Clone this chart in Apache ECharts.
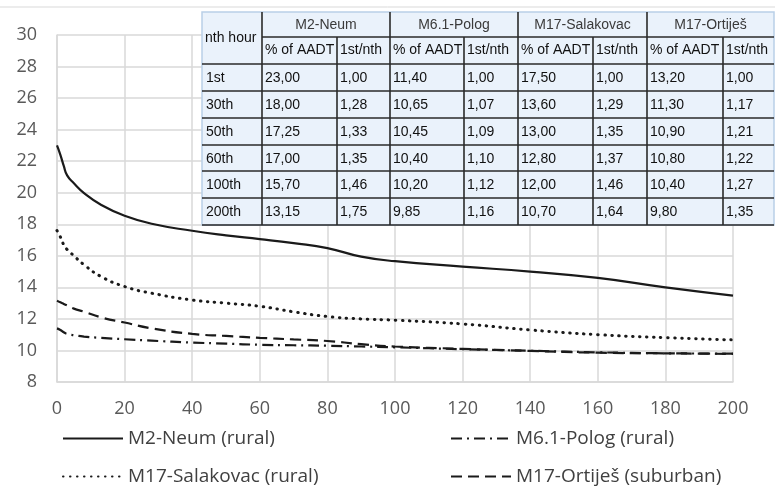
<!DOCTYPE html>
<html><head><meta charset="utf-8">
<script src="https://cdn.jsdelivr.net/npm/echarts@6/dist/echarts.min.js"></script>
<style>html,body{margin:0;padding:0;background:#fff}#c{width:775px;height:492px}</style>
</head><body><div id="c"></div>
<script>
// ---- chart data ----
const hours = [0, 1, 2, 3, 5, 8, 13, 20, 28, 40, 50, 60, 70, 80, 90, 100, 120, 140, 160, 180, 200];
const m2Neum = [23.0, 22.4, 21.7, 21.1, 20.6, 19.98, 19.24, 18.54, 18.03, 17.59, 17.3, 17.06, 16.8, 16.49, 15.95, 15.66, 15.32, 15.0, 14.6, 14.0, 13.48];
const m61Polog = [11.4, 11.3, 11.15, 11.05, 10.97, 10.88, 10.8, 10.71, 10.62, 10.5, 10.43, 10.36, 10.33, 10.3, 10.25, 10.2, 10.08, 9.98, 9.88, 9.82, 9.8];
const m17Salakovac = [17.6, 17.2, 16.7, 16.4, 16.0, 15.43, 14.69, 14.05, 13.63, 13.2, 13.0, 12.8, 12.45, 12.15, 12.0, 11.92, 11.68, 11.3, 11.0, 10.81, 10.67];
const m17Ortijes = [13.16, 13.05, 12.95, 12.85, 12.65, 12.46, 12.1, 11.77, 11.4, 11.05, 10.92, 10.8, 10.7, 10.6, 10.4, 10.25, 10.1, 9.97, 9.86, 9.82, 9.78];
const seriesNames = ['M2-Neum (rural)', 'M6.1-Polog (rural)', 'M17-Salakovac (rural)', 'M17-Ortiješ (suburban)'];

// ---- table data ----
const tableGroups = ['M2-Neum', 'M6.1-Polog', 'M17-Salakovac', 'M17-Ortiješ'];
const tableSubHeads = ['% of AADT', '1st/nth'];
const tableCorner = 'nth hour';
const tableRows = ['1st', '30th', '50th', '60th', '100th', '200th'];
const tM2Pct = ['23,00', '18,00', '17,25', '17,00', '15,70', '13,15'];
const tM2Ratio = ['1,00', '1,28', '1,33', '1,35', '1,46', '1,75'];
const tM61Pct = ['11,40', '10,65', '10,45', '10,40', '10,20', '9,85'];
const tM61Ratio = ['1,00', '1,07', '1,09', '1,10', '1,12', '1,16'];
const tSalPct = ['17,50', '13,60', '13,00', '12,80', '12,00', '10,70'];
const tSalRatio = ['1,00', '1,29', '1,35', '1,37', '1,46', '1,64'];
const tOrtPct = ['13,20', '11,30', '10,90', '10,80', '10,40', '9,80'];
const tOrtRatio = ['1,00', '1,17', '1,21', '1,22', '1,27', '1,35'];

const pair = (a) => hours.map((h, i) => [h, a[i]]);
const FONT = '"Open Sans", sans-serif';
const AX = '#595959';

const styles = [
  { color: '#1a1a1a', width: 2.2, type: 'solid' },
  { color: '#1a1a1a', width: 2.2, type: [11, 5, 2, 5] },
  { color: '#1a1a1a', width: 3, type: [0.5, 6.5], cap: 'round' },
  { color: '#1a1a1a', width: 2.2, type: [11, 6] }
];
const dataSets = [m2Neum, m61Polog, m17Salakovac, m17Ortijes];

const series = dataSets.map((d, i) => ({
  name: seriesNames[i],
  type: 'line',
  data: pair(d),
  showSymbol: false,
  symbol: 'none',
  smooth: 0.5,
  lineStyle: { color: styles[i].color, width: styles[i].width, type: styles[i].type, cap: styles[i].cap || 'butt' },
  itemStyle: { color: styles[i].color },
  z: 3
}));

// legends
const legendPos = [[62, 429], [450, 429], [62, 467], [450, 467]];
const legends = seriesNames.map((n, i) => ({
  show: true,
  data: [{ name: n, itemStyle: { opacity: 0 } }],
  left: legendPos[i][0],
  top: legendPos[i][1],
  padding: 0,
  itemWidth: 60,
  itemHeight: 20,
  selectedMode: false,
  itemStyle: { opacity: 0 },
  textStyle: { fontFamily: FONT, fontSize: 19, color: '#404040' }
}));

// table graphics
const colX = [202, 262, 337, 390, 464, 518, 593, 647, 723, 774];
const rowY = [12, 37, 64, 91, 118, 145, 171, 198, 225];
const TF = '14px "Liberation Sans", Arial, sans-serif';
const dark = '#2a2a2a';
const g = [];
g.push({ type: 'line', z: 100, shape: { x1: 0, y1: 7, x2: 775, y2: 7 }, style: { stroke: '#d9d9d9', lineWidth: 1 } });
g.push({ type: 'rect', z: 100, shape: { x: colX[0], y: rowY[0], width: colX[9] - colX[0], height: rowY[8] - rowY[0] }, style: { fill: '#eaf2fb', stroke: '#b9cfe8', lineWidth: 1.5 } });
const hl = (x1, x2, y) => g.push({ type: 'line', z: 101, shape: { x1, y1: y, x2, y2: y }, style: { stroke: dark, lineWidth: 1.6 } });
const vl = (x, y1, y2) => g.push({ type: 'line', z: 101, shape: { x1: x, y1, x2: x, y2 }, style: { stroke: dark, lineWidth: 1.6 } });
hl(colX[1], colX[9], rowY[1]);
for (let r = 2; r <= 8; r++) hl(colX[0], colX[9], rowY[r]);
[1, 3, 5, 7].forEach(c => vl(colX[c], rowY[0], rowY[8]));
[2, 4, 6, 8].forEach(c => vl(colX[c], rowY[1], rowY[8]));
const txt = (x, y, t, align, color) => g.push({ type: 'text', z: 102, x, y, style: { text: t, font: TF, fill: color || '#111111', textAlign: align || 'left', textVerticalAlign: 'middle', align: align || 'left', verticalAlign: 'middle' } });
txt(colX[0] + 3, (rowY[0] + rowY[2]) / 2, tableCorner);
tableGroups.forEach((name, k) => {
  txt((colX[1 + 2 * k] + colX[3 + 2 * k]) / 2, (rowY[0] + rowY[1]) / 2 + 1, name, 'center', '#3a3a3a');
  txt(colX[1 + 2 * k] + 3, (rowY[1] + rowY[2]) / 2, tableSubHeads[0]);
  txt(colX[2 + 2 * k] + 3, (rowY[1] + rowY[2]) / 2, tableSubHeads[1]);
});
const cols = [tableRows, tM2Pct, tM2Ratio, tM61Pct, tM61Ratio, tSalPct, tSalRatio, tOrtPct, tOrtRatio];
cols.forEach((col, c) => col.forEach((v, r) => txt(colX[c] + (c === 0 ? 4 : 3), (rowY[r + 2] + rowY[r + 3]) / 2 + 1, v)));

const chart = echarts.init(document.getElementById('c'), null, { renderer: 'canvas' });
chart.setOption({
  animation: false,
  backgroundColor: '#fff',
  grid: { left: 57, right: 42, top: 35, bottom: 110, containLabel: false },
  xAxis: {
    type: 'value', min: 0, max: 200, interval: 20,
    axisLine: { show: true, lineStyle: { color: '#d9d9d9', width: 1.5 } },
    axisTick: { show: false },
    splitLine: { show: true, lineStyle: { color: '#d9d9d9', width: 1.5 } },
    axisLabel: { color: AX, fontFamily: FONT, fontSize: 18, margin: 18 }
  },
  yAxis: {
    type: 'value', min: 8, max: 30, interval: 2,
    axisLine: { show: true, lineStyle: { color: '#d9d9d9', width: 1.5 } },
    axisTick: { show: false },
    splitLine: { show: true, lineStyle: { color: '#d9d9d9', width: 1.5 } },
    axisLabel: { color: AX, fontFamily: FONT, fontSize: 18, margin: 20 }
  },
  legend: legends,
  series: series,
  graphic: g
});
</script></body></html>
